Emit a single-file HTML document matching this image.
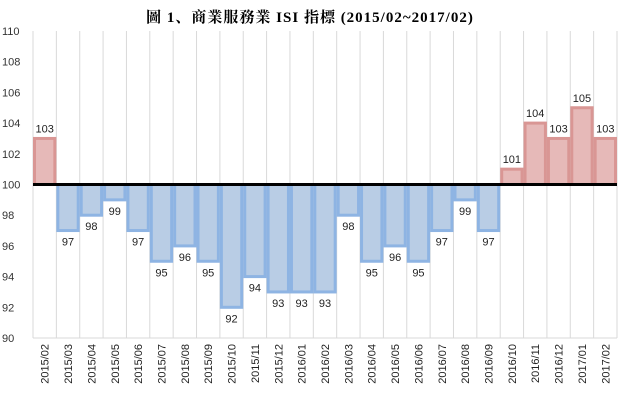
<!DOCTYPE html>
<html><head><meta charset="utf-8"><style>
body{margin:0;background:#fff;}
svg text{font-family:"Liberation Sans","Noto Sans CJK TC",sans-serif;}
</style></head><body>
<svg width="626" height="412" xmlns="http://www.w3.org/2000/svg">
<text x="310" y="22" text-anchor="middle" font-size="15" letter-spacing="1" font-weight="bold" style="font-family:'Liberation Serif','Noto Serif CJK SC',serif">圖 1、商業服務業 ISI 指標 (2015/02~2017/02)</text>
<g id="grid"></g><g id="bars"></g><g id="labels"></g><g id="axes"></g>
</svg>
<script>
const categories=["2015/02","2015/03","2015/04","2015/05","2015/06","2015/07","2015/08","2015/09","2015/10","2015/11","2015/12","2016/01","2016/02","2016/03","2016/04","2016/05","2016/06","2016/07","2016/08","2016/09","2016/10","2016/11","2016/12","2017/01","2017/02"];
const values=[103,97,98,99,97,95,96,95,92,94,93,93,93,98,95,96,95,97,99,97,101,104,103,105,103];
const yTicks=[90,92,94,96,98,100,102,104,106,108,110];
const L=33,R=617,T=31,B=338,base=100;
const y=v=>B-(v-90)*(B-T)/20;
const cw=(R-L)/categories.length;
const x=i=>L+i*cw;
const ns="http://www.w3.org/2000/svg";
function mk(p,tag,a){const e=document.createElementNS(ns,tag);for(const k in a)e.setAttribute(k,a[k]);p.appendChild(e);return e;}
const g=document.getElementById('grid'),gb=document.getElementById('bars'),gl=document.getElementById('labels'),ga=document.getElementById('axes');
for(let i=0;i<=categories.length;i++){const l=mk(g,'line',{x1:x(i),x2:x(i),y1:T,y2:B,stroke:'#d9d9d9','stroke-width':1});

}
mk(g,'line',{x1:L,x2:R,y1:B,y2:B,stroke:'#d9d9d9'});
yTicks.forEach(v=>{const t=mk(ga,'text',{x:2,y:y(v)+4,'font-size':11,fill:'#333'});t.textContent=v;

});
values.forEach((v,i)=>{const pos=v>=base;const top=Math.min(y(v),y(base)),h=Math.abs(y(v)-y(base));
const r=mk(gb,'rect',{x:x(i)+1.5,y:top,width:cw-3,height:h,fill:pos?'#e6b9b8':'#b9cde5',stroke:pos?'#d99694':'#8eb4e3','stroke-width':3});


const t=mk(gl,'text',{x:x(i)+cw/2,y:pos?y(v)-6:y(v)+15,'text-anchor':'middle','font-size':11,fill:'#222'});t.textContent=v;


const c=mk(ga,'text',{transform:`translate(${x(i)+cw/2+4},${B+6}) rotate(-90)`,'text-anchor':'end','font-size':11,fill:'#222'});c.textContent=categories[i];

});
const bl=mk(ga,'line',{x1:L,x2:R,y1:y(base),y2:y(base),stroke:'#000','stroke-width':3});


</script>
</body></html>
